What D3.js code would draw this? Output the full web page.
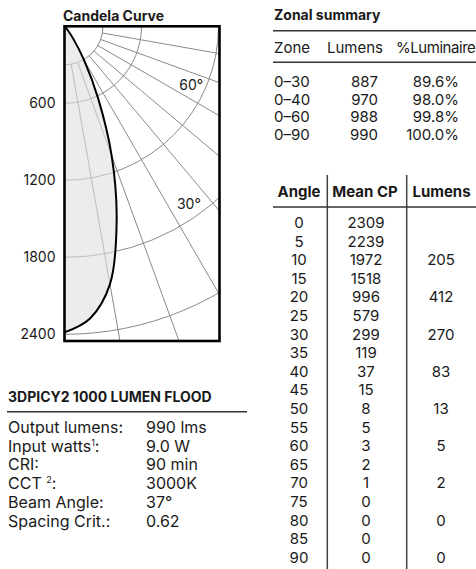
<!DOCTYPE html>
<html>
<head>
<meta charset="utf-8">
<script src="https://cdn.jsdelivr.net/npm/d3@7"></script>
<style>
  body { margin: 0; background: #fff; }
  svg { display: block; font-family: Inter, "Noto Sans", sans-serif; fill: #1a1a1a; }
</style>
</head>
<body>
<svg id="sheet" width="476" height="569"></svg>
<script>
// photometric table
const angles = [0, 5, 10, 15, 20, 25, 30, 35, 40, 45, 50, 55, 60, 65, 70, 75, 80, 85, 90];
const meanCP = [2309, 2239, 1972, 1518, 996, 579, 299, 119, 37, 15, 8, 5, 3, 2, 1, 0, 0, 0, 0];
const zoneLumens = [null, null, 205, null, 412, null, 270, null, 83, null, 13, null, 5, null, 2, null, 0, null, 0];
// candela (runs a little fuller than the table near nadir)
const tracedCd = [2385, 2285, 2040, 1570, 1075, 620, 305, 122, 38, 15, 8, 5, 3, 2, 1, 0, 0, 0, 0];

const zones = ["0–30", "0–40", "0–60", "0–90"];
const zonalLumens = [887, 970, 988, 990];
const zonalPct = ["89.6%", "98.0%", "99.8%", "100.0%"];

const cdTicks = [600, 1200, 1800, 2400];
const rings = [300, 600, 1200, 1800, 2400];
const spokes = [10, 20, 30, 40, 50, 60, 70, 80];
const sectorLabels = [60, 30];
const sectorRings = [1200, 1800];

const specLabels = ["Output lumens:", "Input watts", "CRI:", "CCT ", "Beam Angle:", "Spacing Crit.:"];
const specSups = [null, "1", null, "2", null, null];
const specValues = ["990 lms", "9.0 W", "90 min", "3000K", "37°", "0.62"];

const svg = d3.select("#sheet");
const ink = "#1a1a1a";

// ---- candela curve ----
const box = {x: 64.5, y: 26.3, w: 155, h: 314.7};
const r = d3.scaleLinear().domain([0, 2400]).range([0, 308]);
const rad = d => d * Math.PI / 180;
// angle from nadir, swinging right
const px = (deg, cd) => box.x + r(cd) * Math.sin(rad(deg));
const py = (deg, cd) => box.y + r(cd) * Math.cos(rad(deg));

svg.append("text")
  .attr("x", 63).attr("y", 21)
  .attr("font-size", 14).attr("font-weight", 700)
  .text("Candela Curve");

svg.append("clipPath").attr("id", "boxclip")
  .append("rect").attr("x", box.x).attr("y", box.y).attr("width", box.w).attr("height", box.h);

const polar = svg.append("g").attr("clip-path", "url(#boxclip)");

// rings
polar.selectAll("path.ring").data(rings).enter().append("path")
  .attr("class", "ring")
  .attr("d", d => { const p = d3.path(); p.arc(box.x, box.y, r(d), 0, Math.PI / 2); return p.toString(); })
  .attr("fill", "none").attr("stroke", "#8a8a8a").attr("stroke-width", 1);

// spokes from the first ring outwards
polar.selectAll("line.spoke").data(spokes).enter().append("line")
  .attr("class", "spoke")
  .attr("x1", d => px(d, rings[0])).attr("y1", d => py(d, rings[0]))
  .attr("x2", d => px(d, 4000)).attr("y2", d => py(d, 4000))
  .attr("stroke", "#8a8a8a").attr("stroke-width", 1);

const pts = angles.map((a, i) => [a, tracedCd[i]]);

const area = d3.areaRadial()
  .angle(d => Math.PI - rad(d[0]))
  .innerRadius(0)
  .outerRadius(d => r(d[1]))
  .curve(d3.curveCatmullRom);

polar.append("path")
  .datum(pts)
  .attr("transform", `translate(${box.x},${box.y})`)
  .attr("d", area)
  .attr("fill", "rgb(224,224,224)").attr("fill-opacity", 0.6);

const line = d3.lineRadial()
  .angle(d => Math.PI - rad(d[0]))
  .radius(d => r(d[1]))
  .curve(d3.curveCatmullRom);

polar.append("path")
  .datum(pts)
  .attr("transform", `translate(${box.x},${box.y})`)
  .attr("d", line)
  .attr("fill", "none").attr("stroke", "#000").attr("stroke-width", 2);

svg.selectAll("text.sector").data(sectorLabels).enter().append("text")
  .attr("class", "sector")
  .attr("x", (d, i) => px(d + 5, sectorRings[i] - 110))
  .attr("y", (d, i) => py(d + 5, sectorRings[i] - 110))
  .attr("dy", "0.36em").attr("text-anchor", "middle")
  .attr("font-size", 14)
  .text(d => d + "°");

svg.append("rect")
  .attr("x", box.x).attr("y", box.y).attr("width", box.w).attr("height", box.h)
  .attr("fill", "none").attr("stroke", "#000").attr("stroke-width", 2.6);

// candela axis on the left edge (distance straight down = candela)
const yAxis = d3.scaleLinear().domain([0, 2400]).range([box.y, box.y + r(2400)]);
const ax = svg.append("g")
  .attr("transform", `translate(${box.x},0)`)
  .call(d3.axisLeft(yAxis).tickValues(cdTicks).tickFormat(d3.format("d")).tickSize(0).tickPadding(9));
ax.select(".domain").remove();
ax.selectAll("text").attr("font-size", 14).attr("font-family", "Inter").attr("fill", ink);

// ---- product spec ----
svg.append("text")
  .attr("x", 8).attr("y", 401.7)
  .attr("font-size", 14).attr("font-weight", 700)
  .text("3DPICY2 1000 LUMEN FLOOD");
svg.append("line").attr("x1", 7).attr("x2", 247).attr("y1", 411.7).attr("y2", 411.7)
  .attr("stroke", "#333").attr("stroke-width", 1.5);

const specY = d3.scaleLinear().domain([0, 1]).range([433, 451.7]);
const spec = svg.selectAll("g.spec").data(specLabels).enter().append("g").attr("class", "spec");
const lab = spec.append("text")
  .attr("x", 8).attr("y", (d, i) => specY(i))
  .attr("font-size", 16);
lab.append("tspan").text(d => d);
lab.filter((d, i) => specSups[i]).append("tspan")
  .attr("font-size", 9).attr("dy", -6)
  .text(d => specSups[specLabels.indexOf(d)]);
lab.filter((d, i) => specSups[i]).append("tspan")
  .attr("dy", 6).text(":");
spec.append("text")
  .attr("x", 146).attr("y", (d, i) => specY(i))
  .attr("font-size", 16)
  .text((d, i) => specValues[i]);

// ---- zonal summary ----
svg.append("text")
  .attr("x", 274).attr("y", 20)
  .attr("font-size", 14).attr("font-weight", 700)
  .text("Zonal summary");
svg.selectAll("line.zrule").data([30.7, 62.3]).enter().append("line")
  .attr("class", "zrule")
  .attr("x1", 273).attr("x2", 476).attr("y1", d => d).attr("y2", d => d)
  .attr("stroke", "#333").attr("stroke-width", 1.5);

const zHead = svg.append("g").attr("font-size", 15);
zHead.append("text").attr("x", 274).attr("y", 53).text("Zone");
zHead.append("text").attr("x", 327).attr("y", 53).text("Lumens");
zHead.append("text").attr("x", 396).attr("y", 53).attr("letter-spacing", -0.45).text("%Luminaire");

const zoneY = d3.scaleLinear().domain([0, 1]).range([87, 104.5]);
const zRows = svg.selectAll("g.zrow").data(zones).enter().append("g")
  .attr("class", "zrow").attr("font-size", 15);
zRows.append("text").attr("x", 274).attr("y", (d, i) => zoneY(i)).text(d => d);
zRows.append("text").attr("x", 378).attr("y", (d, i) => zoneY(i))
  .attr("text-anchor", "end").text((d, i) => zonalLumens[i]);
zRows.append("text").attr("x", 459).attr("y", (d, i) => zoneY(i))
  .attr("text-anchor", "end").text((d, i) => zonalPct[i]);

// ---- candela table ----
const colX = [299, 366, 441];
const tHead = svg.append("g").attr("font-size", 15).attr("font-weight", 700).attr("text-anchor", "middle");
["Angle", "Mean CP", "Lumens"].forEach((h, i) => {
  tHead.append("text").attr("x", [299, 365, 441.5][i]).attr("y", 196.5).text(h);
});
svg.selectAll("line.vsep").data([327.3, 406.7]).enter().append("line")
  .attr("class", "vsep")
  .attr("x1", d => d).attr("x2", d => d).attr("y1", 175).attr("y2", 569)
  .attr("stroke", "#444").attr("stroke-width", 1.5);
svg.append("line").attr("x1", 273).attr("x2", 476).attr("y1", 207).attr("y2", 207)
  .attr("stroke", "#333").attr("stroke-width", 1.5);

const rowY = d3.scaleLinear().domain([0, 1]).range([228, 246.6]);
const tRows = svg.selectAll("g.trow").data(angles).enter().append("g")
  .attr("class", "trow").attr("font-size", 15).attr("text-anchor", "middle");
tRows.append("text").attr("x", colX[0]).attr("y", (d, i) => rowY(i)).text(d => d);
tRows.append("text").attr("x", colX[1]).attr("y", (d, i) => rowY(i)).text((d, i) => meanCP[i]);
tRows.append("text").attr("x", colX[2]).attr("y", (d, i) => rowY(i))
  .text((d, i) => zoneLumens[i] === null ? "" : zoneLumens[i]);
</script>
</body>
</html>
